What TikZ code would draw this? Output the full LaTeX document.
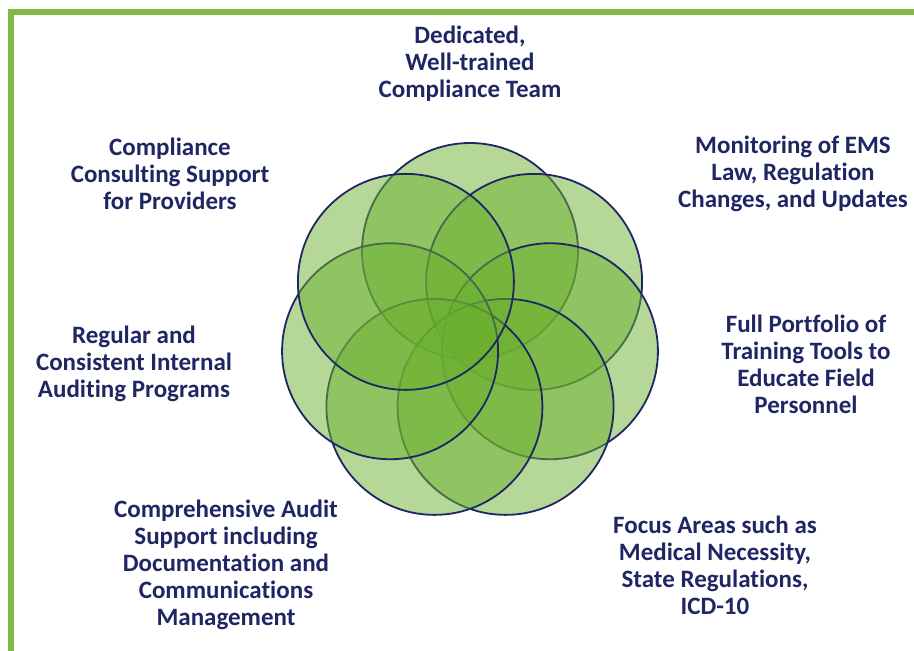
\documentclass[tikz,border=0pt]{standalone}
\usepackage{fontspec}
\setmainfont[Ligatures=NoCommon]{Carlito}
\usetikzlibrary{calc}

\definecolor{framegreen}{RGB}{130,187,66}
\definecolor{leafgreen}{RGB}{108,176,48}
\definecolor{inkblue}{RGB}{31,38,100}

\begin{document}
\begin{tikzpicture}[x=1pt,y=-1pt,
    petal/.style={fill=leafgreen,fill opacity=.5,draw=inkblue,draw opacity=1,line width=1.8pt},
    txt/.style={text=inkblue,align=center,font=\bfseries\fontsize{25}{27}\selectfont,inner sep=0pt}]
  \useasboundingbox (0,0) rectangle (914,651);
  % frame, only top and left side show
  \draw[framegreen,line width=6pt] (11,651) -- (11,12) -- (914,12);
  %
  % seven circles round the middle, top one first, then clockwise
  \foreach \k in {0,...,6}
           {\path[petal] ($(470,333)+(-90+\k*51.4286:82)$) circle [radius=108pt];}
  %
  \node[txt] (team)     at (470,64)  {Dedicated,\\Well-trained\\Compliance Team};
  \node[txt] (monitor)  at (793,174) {Monitoring of EMS\\Law, Regulation\\Changes, and Updates};
  \node[txt] (training) at (806,364) {Full Portfolio of\\Training Tools to\\Educate Field\\Personnel};
  \node[txt] (focus)    at (715,565) {Focus Areas such as\\Medical Necessity,\\State Regulations,\\ICD-10};
  \node[txt] (audit)    at (226,565) {Comprehensive Audit\\Support including\\Documentation and\\Communications\\Management};
  \node[txt] (internal) at (134,364) {Regular and\\Consistent Internal\\Auditing Programs};
  \node[txt] (consult)  at (170,174) {Compliance\\Consulting Support\\for Providers};
\end{tikzpicture}
\end{document}
